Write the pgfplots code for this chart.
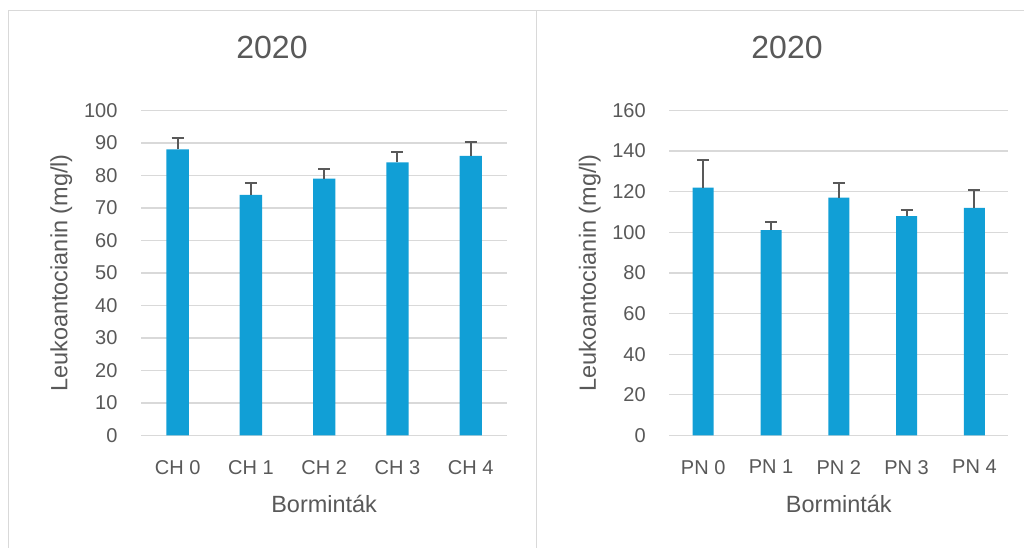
\documentclass[border=0pt]{standalone}
\usepackage{pgfplots}
\pgfplotsset{compat=1.18}
\usepackage{pgfplotstable}
\usepackage{fontspec}
\setmainfont{Liberation Sans}
\definecolor{barblue}{HTML}{119FD6}
\definecolor{txtgray}{HTML}{595959}
\definecolor{gridgray}{HTML}{D9D9D9}
\definecolor{errgray}{HTML}{595959}

\pgfplotstableread{
x y err
0 88 3.5
1 74 3.7
2 79 3.0
3 84 3.3
4 86 4.2
}\chdata

\pgfplotstableread{
x y err
0 122 13.5
1 101 4.0
2 117 7.5
3 108 3.0
4 112 8.6
}\pndata

\pgfplotsset{
  excelbar/.style={
    scale only axis,
    height=243.75pt,
    ymin=0,
    xmin=-0.5, xmax=4.5,
    xtick=data,
    axis line style={draw=none},
    major tick length=0pt,
    ymajorgrids,
    major grid style={color=gridgray, line width=0.9pt},
    /pgf/number format/assume math mode=true,
    tick label style={font=\fontsize{15}{18}\selectfont, color=txtgray},
    yticklabel style={anchor=east, inner sep=0pt, xshift=-17.5pt},
    xticklabel style={anchor=north, inner sep=0pt, yshift=-18.4pt},
    label style={font=\fontsize{17.6}{21}\selectfont, color=txtgray},
    xlabel style={at={(axis description cs:0.5,-0.2378)}, anchor=base, inner sep=0pt},
    ylabel style={anchor=base, inner sep=0pt},
    title style={font=\fontsize{24}{28}\selectfont, color=txtgray, anchor=base, inner sep=0pt},
    xlabel={Borminták},
    ylabel={Leukoantocianin (mg/l)},
    title={2020},
  },
  errstyle/.style={
    error bars/.cd,
      y dir=plus, y explicit,
      error bar style={draw=errgray, solid, line width=1.5pt},
      error mark=-,
      error mark options={rotate=90, draw=errgray, solid, line width=1.5pt, mark size=4.5pt},
  },
}

\begin{document}
\begin{tikzpicture}
\useasboundingbox (0,0) rectangle (768pt,410.25pt);
\clip (0,0) rectangle (768pt,410.25pt);
\fill[white] (0,0) rectangle (768pt,410.25pt);
\draw[gridgray, line width=0.75pt] (6pt,-5pt) -- (6pt,402pt) -- (800pt,402pt);
\draw[gridgray, line width=0.75pt] (402pt,-5pt) -- (402pt,402pt);

\begin{axis}[excelbar,
  at={(105.75pt,83.7pt)}, anchor=south west,
  width=274.7pt,
  ymax=100, ytick={0,10,...,100},
  xticklabels={CH 0,CH 1,CH 2,CH 3,CH 4},
  ylabel style={at={(axis description cs:-0.2007,0.5)}},
  title style={at={(axis description cs:0.3576,1.1342)}},
]
\addplot[ybar, bar width=16.7pt, fill=barblue, draw=none, errstyle]
  table[x=x, y=y, y error=err]{\chdata};
\end{axis}

\begin{axis}[excelbar,
  at={(501.98pt,83.7pt)}, anchor=south west,
  width=254.25pt,
  ymax=160, ytick={0,20,...,160},
  xticklabels={PN 0,PN 1,PN 2,PN 3,PN 4},
  ylabel style={at={(axis description cs:-0.2168,0.5)}},
  title style={at={(axis description cs:0.3472,1.1342)}},
]
\addplot[ybar, bar width=15.75pt, fill=barblue, draw=none, errstyle]
  table[x=x, y=y, y error=err]{\pndata};
\end{axis}
\end{tikzpicture}
\end{document}
